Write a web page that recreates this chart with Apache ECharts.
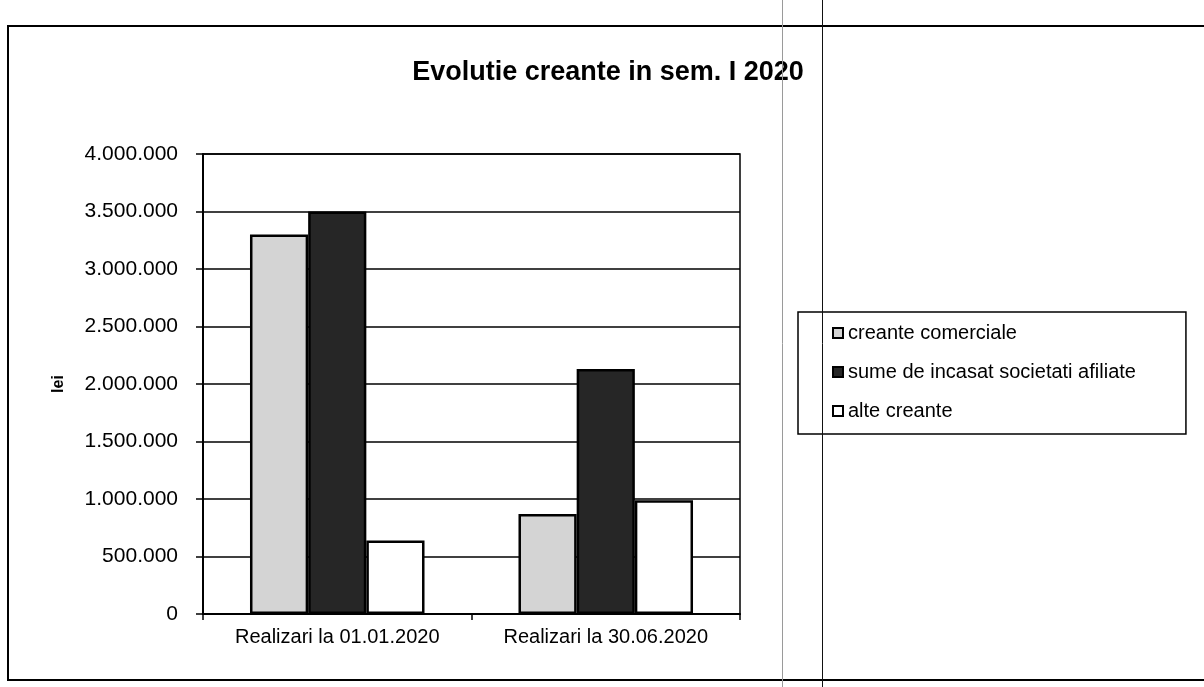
<!DOCTYPE html>
<html>
<head>
<meta charset="utf-8">
<script src="https://cdn.jsdelivr.net/npm/echarts@6/dist/echarts.min.js"></script>
<style>
  html, body { margin: 0; padding: 0; background: #fff; }
  #chart { width: 1204px; height: 687px; }
</style>
</head>
<body>
<div id="chart"></div>
<script>
const categories = ['Realizari la 01.01.2020', 'Realizari la 30.06.2020'];
const seriesNames = ['creante comerciale', 'sume de incasat societati afiliate', 'alte creante'];
const creanteComerciale = [3300000, 870000];
const sumeAfiliate = [3500000, 2130000];
const alteCreante = [640000, 990000];
const yTicks = [0, 500000, 1000000, 1500000, 2000000, 2500000, 3000000, 3500000, 4000000];

const FONT = '"Liberation Sans", Arial, sans-serif';
function fmt(v) {
  return String(Math.round(v)).replace(/\B(?=(\d{3})+(?!\d))/g, '.');
}

const chart = echarts.init(document.getElementById('chart'), null, { renderer: 'canvas' });
const seriesColors = ['#d4d4d4', '#262626', '#ffffff'];
const seriesData = [creanteComerciale, sumeAfiliate, alteCreante];

chart.setOption({
  backgroundColor: '#ffffff',
  animation: false,
  title: {
    text: 'Evolutie creante in sem. I 2020',
    left: 603,
    textAlign: 'center',
    top: 54,
    textStyle: { fontFamily: FONT, fontWeight: 'bold', fontSize: 27, color: '#000' }
  },
  legend: {
    orient: 'vertical',
    left: 798,
    top: 312,
    padding: [11, 50, 13, 34],
    itemGap: 19,
    itemWidth: 10,
    itemHeight: 10,
    borderColor: '#000',
    borderWidth: 1.5,
    icon: 'rect',
    textStyle: { fontFamily: FONT, fontSize: 20, color: '#000' },
    data: seriesNames
  },
  grid: {
    left: 203,
    right: 464,
    top: 154,
    bottom: 73,
    show: true,
    borderColor: '#000',
    borderWidth: 1.5
  },
  xAxis: {
    type: 'category',
    data: categories,
    axisLine: { lineStyle: { color: '#000', width: 2 } },
    axisTick: { show: true, interval: 0, length: 6, lineStyle: { color: '#000', width: 1.5 } },
    axisLabel: { interval: 0, hideOverlap: false, fontFamily: FONT, fontSize: 20, color: '#000', margin: 13 }
  },
  yAxis: {
    type: 'value',
    min: 0,
    max: 4000000,
    interval: 500000,
    name: 'lei',
    nameLocation: 'middle',
    nameGap: 136,
    nameRotate: 90,
    nameTextStyle: { fontFamily: FONT, fontWeight: 'bold', fontSize: 16, color: '#000' },
    axisLine: { show: true, lineStyle: { color: '#000', width: 2 } },
    axisTick: { show: true, length: 7, lineStyle: { color: '#000', width: 1.5 } },
    splitLine: { show: true, lineStyle: { color: '#000', width: 1.5 } },
    axisLabel: {
      fontFamily: FONT, fontSize: 21, color: '#000', margin: 25,
      formatter: function (v) { return yTicks.indexOf(v) >= 0 ? fmt(v) : ''; }
    }
  },
  series: seriesNames.map(function (name, i) {
    return {
      name: name,
      type: 'bar',
      data: seriesData[i],
      barGap: '0%',
      barCategoryGap: '35%',
      itemStyle: { color: seriesColors[i], borderColor: '#000', borderWidth: 2.5 }
    };
  }),
  graphic: [
    { type: 'rect', shape: { x: 8, y: 26, width: 1210, height: 654 },
      style: { fill: 'none', stroke: '#000', lineWidth: 2 }, silent: true, z: -1 },
    { type: 'line', shape: { x1: 782.5, y1: 0, x2: 782.5, y2: 687 },
      style: { stroke: '#9a9a9a', lineWidth: 1 }, silent: true, z: 10 },
    { type: 'line', shape: { x1: 822.5, y1: 0, x2: 822.5, y2: 687 },
      style: { stroke: '#111', lineWidth: 1 }, silent: true, z: 10 }
  ]
});
</script>
</body>
</html>
